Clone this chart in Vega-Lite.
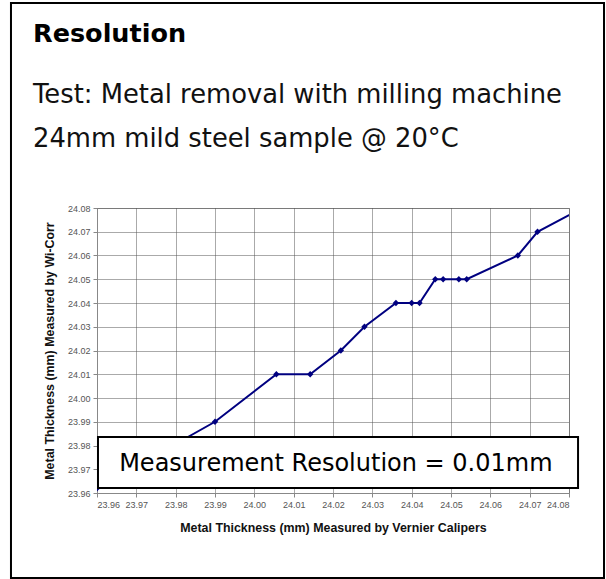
{
  "$schema": "https://vega.github.io/schema/vega-lite/v6.json",
  "width": 472,
  "height": 285,
  "autosize": {"type": "none"},
  "padding": {"left": 97, "top": 208, "right": 37, "bottom": 86},
  "background": "white",
  "title": {
    "text": "Resolution",
    "subtitle": ["Test: Metal removal with milling machine", "24mm mild steel sample @ 20°C"],
    "anchor": "start",
    "frame": "group",
    "dx": -64,
    "offset": -150,
    "font": "DejaVu Sans",
    "fontSize": 25.5,
    "fontWeight": "bold",
    "color": "#000000",
    "subtitleFont": "DejaVu Sans",
    "subtitleFontSize": 25.8,
    "subtitleColor": "#111111",
    "subtitleLineHeight": 44,
    "subtitlePadding": 36
  },
  "datasets": {
    "measurements": [
      {"vernier": 23.960, "wicorr": 23.962},
      {"vernier": 23.990, "wicorr": 23.990},
      {"vernier": 24.0056, "wicorr": 24.010},
      {"vernier": 24.0142, "wicorr": 24.010},
      {"vernier": 24.0220, "wicorr": 24.020},
      {"vernier": 24.0280, "wicorr": 24.030},
      {"vernier": 24.0360, "wicorr": 24.040},
      {"vernier": 24.0400, "wicorr": 24.040},
      {"vernier": 24.0420, "wicorr": 24.040},
      {"vernier": 24.0460, "wicorr": 24.050},
      {"vernier": 24.0480, "wicorr": 24.050},
      {"vernier": 24.0520, "wicorr": 24.050},
      {"vernier": 24.0540, "wicorr": 24.050},
      {"vernier": 24.0670, "wicorr": 24.060},
      {"vernier": 24.0720, "wicorr": 24.070},
      {"vernier": 24.0835, "wicorr": 24.080}
    ]
  },
  "layer": [
    {
      "data": {"values": [{}]},
      "mark": {"type": "rect", "fill": "transparent", "stroke": "#000000", "strokeWidth": 2, "clip": false},
      "encoding": {
        "x": {
          "datum": 23.93813,
          "type": "quantitative",
          "scale": {"domain": [23.96, 24.08], "nice": false, "zero": false},
          "axis": {
            "title": "Metal Thickness (mm) Measured by Vernier Calipers",
            "values": [23.96, 23.97, 23.98, 23.99, 24.0, 24.01, 24.02, 24.03, 24.04, 24.05, 24.06, 24.07, 24.08],
            "tickCount": 13,
            "labelOverlap": false,
            "format": ".2f",
            "titlePadding": 12
          }
        },
        "x2": {"datum": 24.0889},
        "y": {
          "datum": 24.16632,
          "type": "quantitative",
          "scale": {"domain": [23.96, 24.08], "nice": false, "zero": false},
          "axis": {
            "title": "Metal Thickness (mm) Measured by Wi-Corr",
            "values": [23.96, 23.97, 23.98, 23.99, 24.0, 24.01, 24.02, 24.03, 24.04, 24.05, 24.06, 24.07, 24.08],
            "tickCount": 13,
            "labelOverlap": false,
            "format": ".2f",
            "titlePadding": 11
          }
        },
        "y2": {"datum": 23.92421}
      }
    },
    {
      "data": {"name": "measurements"},
      "mark": {"type": "line", "color": "#000080", "strokeWidth": 2, "clip": true},
      "encoding": {
        "x": {"field": "vernier", "type": "quantitative"},
        "y": {"field": "wicorr", "type": "quantitative"}
      }
    },
    {
      "data": {"name": "measurements"},
      "mark": {"type": "point", "shape": "diamond", "filled": true, "color": "#000080", "size": 40, "opacity": 1, "clip": true},
      "encoding": {
        "x": {"field": "vernier", "type": "quantitative"},
        "y": {"field": "wicorr", "type": "quantitative"}
      }
    },
    {
      "data": {"values": [{}]},
      "mark": {"type": "rect", "fill": "#ffffff", "stroke": "#000000", "strokeWidth": 2, "clip": false},
      "encoding": {
        "x": {"datum": 23.96025, "type": "quantitative"},
        "x2": {"datum": 24.0823},
        "y": {"datum": 23.9836, "type": "quantitative"},
        "y2": {"datum": 23.9621}
      }
    },
    {
      "data": {"values": [{"label": "Measurement Resolution = 0.01mm"}]},
      "mark": {"type": "text", "font": "DejaVu Sans", "fontSize": 24, "color": "#000000", "align": "center", "baseline": "alphabetic", "clip": false},
      "encoding": {
        "x": {"datum": 24.02072, "type": "quantitative"},
        "y": {"datum": 23.96939, "type": "quantitative"},
        "text": {"field": "label", "type": "nominal"}
      }
    }
  ],
  "config": {
    "view": {"stroke": "#a0a0a0", "strokeWidth": 1},
    "axis": {
      "labelFont": "Liberation Sans",
      "labelFontSize": 9,
      "labelColor": "#555555",
      "titleFont": "Liberation Sans",
      "titleFontSize": 12.4,
      "titleFontWeight": "bold",
      "titleColor": "#111111",
      "grid": true,
      "gridColor": "#555555",
      "gridDash": [1, 1],
      "gridWidth": 1,
      "gridOpacity": 1,
      "domainColor": "#888888",
      "tickColor": "#888888",
      "tickSize": 4,
      "labelPadding": 3
    }
  }
}
